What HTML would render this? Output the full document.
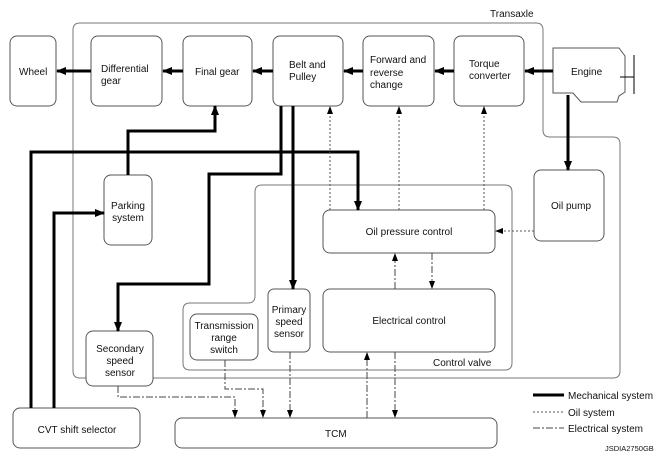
<!DOCTYPE html>
<html><head><style>
html,body{margin:0;padding:0;background:#fff;}
svg text{font-family:"Liberation Sans",sans-serif;font-size:10px;fill:#111;}
</style></head><body>
<svg width="665" height="460" viewBox="0 0 665 460" xmlns="http://www.w3.org/2000/svg">
<defs>
<marker id="a" markerWidth="10" markerHeight="10" refX="9" refY="5" orient="auto" markerUnits="userSpaceOnUse"><path d="M0,1 L10,5 L0,9 Z" fill="#000"/></marker>
<marker id="s" markerWidth="8" markerHeight="8" refX="7" refY="4" orient="auto" markerUnits="userSpaceOnUse"><path d="M0,1 L8,4 L0,7 Z" fill="#000"/></marker>
</defs>
<g fill="none" stroke="#777" stroke-width="1">
<path d="M80,23 H536 Q543,23 543,30 V130 Q543,137 550,137 H613 Q620,137 620,144 V371 Q620,378 613,378 H80 Q73,378 73,371 V30 Q73,23 80,23 Z" fill="#fff"/>
<path d="M262,185 H505 Q512,185 512,192 V363 Q512,370 505,370 H190 Q183,370 183,363 V310 Q183,303 190,303 H248 Q255,303 255,296 V192 Q255,185 262,185 Z"/>
</g>
<g fill="#fff" stroke="#555" stroke-width="1">
<rect x="10" y="36" width="46" height="70" rx="7"/>
<rect x="91" y="36" width="71" height="70" rx="7"/>
<rect x="183" y="36" width="69" height="70" rx="7"/>
<rect x="273" y="36" width="70" height="70" rx="7"/>
<rect x="363" y="36" width="71" height="70" rx="7"/>
<rect x="454" y="36" width="70" height="70" rx="7"/>
<polygon points="553,48 619,48 625,56 625,92 619,96 617,102 581,102 573,93 553,93"/>
<rect x="534" y="170" width="70" height="71" rx="7"/>
<rect x="323" y="210" width="172" height="43" rx="7"/>
<rect x="323" y="289" width="172" height="63" rx="7"/>
<rect x="268" y="289" width="42" height="63" rx="6"/>
<rect x="190" y="314" width="68" height="46" rx="7"/>
<rect x="104" y="175" width="48" height="70" rx="7"/>
<rect x="86" y="331" width="67" height="55" rx="7"/>
<rect x="13" y="408" width="127" height="40" rx="7"/>
<rect x="175" y="418" width="322" height="30" rx="7"/>
</g>
<g stroke="#000" stroke-width="1" fill="none">
<line x1="620" y1="77" x2="634" y2="77"/>
<line x1="634" y1="55" x2="634" y2="94"/>
</g>
<g stroke="#000" stroke-width="3" fill="none" marker-end="url(#a)">
<line x1="553" y1="71" x2="525" y2="71"/>
<line x1="454" y1="71" x2="435" y2="71"/>
<line x1="363" y1="71" x2="344" y2="71"/>
<line x1="273" y1="71" x2="253" y2="71"/>
<line x1="183" y1="71" x2="163" y2="71"/>
<line x1="91" y1="71" x2="57" y2="71"/>
<line x1="568" y1="95" x2="568" y2="170"/>
<polyline points="281,106 281,174 209,174 209,284 118,284 118,331"/>
<line x1="293" y1="106" x2="293" y2="289"/>
<polyline points="31,408 31,152 358,152 358,210"/>
<polyline points="128,175 128,131 215,131 215,106"/>
<polyline points="54,408 54,213 104,213"/>
</g>
<g stroke="#555" stroke-width="1" stroke-dasharray="2,2" fill="none" marker-end="url(#s)">
<line x1="330" y1="210" x2="330" y2="107"/>
<line x1="399" y1="210" x2="399" y2="107"/>
<line x1="484" y1="210" x2="484" y2="107"/>
<line x1="534" y1="231" x2="496" y2="231"/>
</g>
<g stroke="#444" stroke-width="1" stroke-dasharray="7,2,2,2" fill="none" marker-end="url(#s)">
<line x1="395" y1="289" x2="395" y2="254"/>
<line x1="432" y1="253" x2="432" y2="288"/>
<line x1="367" y1="418" x2="367" y2="353"/>
<line x1="395" y1="352" x2="395" y2="417"/>
<polyline points="118,386 118,397 235,397 235,417"/>
<polyline points="225,360 225,389 263,389 263,417"/>
<line x1="290" y1="352" x2="290" y2="417"/>
</g>
<line x1="533" y1="395" x2="564" y2="395" stroke="#000" stroke-width="3"/>
<line x1="533" y1="412" x2="564" y2="412" stroke="#555" stroke-dasharray="2,2"/>
<line x1="533" y1="428" x2="564" y2="428" stroke="#444" stroke-dasharray="7,2,2,2"/>
<text x="568" y="399">Mechanical system</text>
<text x="568" y="416">Oil system</text>
<text x="568" y="432">Electrical system</text>
<text x="605" y="451" style="font-size:7.5px">JSDIA2750GB</text>
<text x="490" y="17">Transaxle</text>
<text x="19" y="75">Wheel</text>
<text x="101" y="72">Differential</text>
<text x="101" y="84">gear</text>
<text x="195" y="75">Final gear</text>
<text x="289" y="68">Belt and</text>
<text x="289" y="80">Pulley</text>
<text x="370" y="63">Forward and</text>
<text x="370" y="76">reverse</text>
<text x="370" y="88">change</text>
<text x="469" y="67">Torque</text>
<text x="469" y="79">converter</text>
<text x="571" y="75">Engine</text>
<text x="551" y="209">Oil pump</text>
<text x="409" y="235" text-anchor="middle">Oil pressure control</text>
<text x="409" y="324" text-anchor="middle">Electrical control</text>
<text x="433" y="366">Control valve</text>
<text x="289" y="313" text-anchor="middle">Primary</text>
<text x="289" y="325" text-anchor="middle">speed</text>
<text x="289" y="337" text-anchor="middle">sensor</text>
<text x="224" y="329" text-anchor="middle">Transmission</text>
<text x="224" y="341" text-anchor="middle">range</text>
<text x="224" y="353" text-anchor="middle">switch</text>
<text x="128" y="209" text-anchor="middle">Parking</text>
<text x="128" y="221" text-anchor="middle">system</text>
<text x="120" y="352" text-anchor="middle">Secondary</text>
<text x="120" y="364" text-anchor="middle">speed</text>
<text x="120" y="376" text-anchor="middle">sensor</text>
<text x="77" y="433" text-anchor="middle">CVT shift selector</text>
<text x="325" y="437">TCM</text>
</svg>
</body></html>
